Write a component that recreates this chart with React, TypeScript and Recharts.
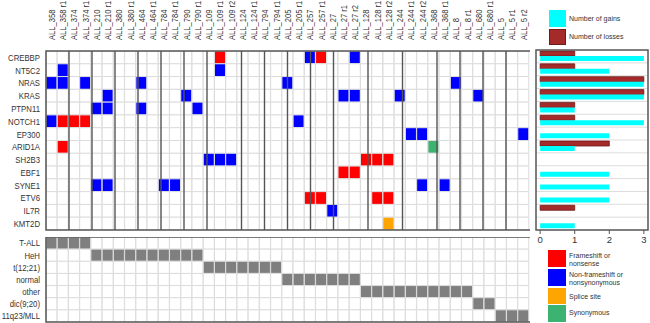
import React from 'react';
import { BarChart, Bar, XAxis, YAxis, Cell, ReferenceLine, ReferenceArea, CartesianGrid } from 'recharts';

const FONT = '"Liberation Sans", Arial, Helvetica, sans-serif';
const TEXT = '#333333';

// ---------- data ----------
const samples = [
  'ALL_358', 'ALL_358 r1', 'ALL_374', 'ALL_374 r1', 'ALL_210', 'ALL_210 r1', 'ALL_380', 'ALL_380 r1',
  'ALL_464', 'ALL_464 r1', 'ALL_784', 'ALL_784 r1', 'ALL_790', 'ALL_790 r1', 'ALL_109', 'ALL_109 r1',
  'ALL_109 r2', 'ALL_124', 'ALL_124 r1', 'ALL_794', 'ALL_794 r1', 'ALL_205', 'ALL_205 r1', 'ALL_257',
  'ALL_257 r1', 'ALL_27', 'ALL_27 r1', 'ALL_27 r2', 'ALL_128', 'ALL_128 r1', 'ALL_128 r2', 'ALL_244',
  'ALL_244 r1', 'ALL_244 r2', 'ALL_368', 'ALL_368 r1', 'ALL_8', 'ALL_8 r1', 'ALL_680', 'ALL_680 r1',
  'ALL_5', 'ALL_5 r1', 'ALL_5 r2',
];

const genes = ['CREBBP', 'NT5C2', 'NRAS', 'KRAS', 'PTPN11', 'NOTCH1', 'EP300', 'ARID1A', 'SH2B3', 'EBF1', 'SYNE1', 'ETV6', 'IL7R', 'KMT2D'];

const frameshiftOrNonsense: [string, string][] = [
  ['CREBBP', 'ALL_109 r1'], ['CREBBP', 'ALL_257 r1'],
  ['NOTCH1', 'ALL_358 r1'], ['NOTCH1', 'ALL_374'], ['NOTCH1', 'ALL_374 r1'],
  ['ARID1A', 'ALL_358 r1'],
  ['SH2B3', 'ALL_128'], ['SH2B3', 'ALL_128 r1'], ['SH2B3', 'ALL_128 r2'],
  ['EBF1', 'ALL_27 r1'], ['EBF1', 'ALL_27 r2'],
  ['ETV6', 'ALL_257'], ['ETV6', 'ALL_257 r1'], ['ETV6', 'ALL_128 r1'], ['ETV6', 'ALL_128 r2'],
];

const nonFrameshiftOrNonsynonymous: [string, string][] = [
  ['CREBBP', 'ALL_257'], ['CREBBP', 'ALL_27 r2'],
  ['NT5C2', 'ALL_358 r1'], ['NT5C2', 'ALL_109 r1'],
  ['NRAS', 'ALL_358'], ['NRAS', 'ALL_358 r1'], ['NRAS', 'ALL_374 r1'], ['NRAS', 'ALL_464'], ['NRAS', 'ALL_205'], ['NRAS', 'ALL_8'],
  ['KRAS', 'ALL_210 r1'], ['KRAS', 'ALL_790'], ['KRAS', 'ALL_27 r1'], ['KRAS', 'ALL_27 r2'], ['KRAS', 'ALL_244'], ['KRAS', 'ALL_680'],
  ['PTPN11', 'ALL_210'], ['PTPN11', 'ALL_210 r1'], ['PTPN11', 'ALL_464'], ['PTPN11', 'ALL_790 r1'],
  ['NOTCH1', 'ALL_358'], ['NOTCH1', 'ALL_205 r1'],
  ['EP300', 'ALL_244 r1'], ['EP300', 'ALL_244 r2'], ['EP300', 'ALL_5 r2'],
  ['SH2B3', 'ALL_109'], ['SH2B3', 'ALL_109 r1'], ['SH2B3', 'ALL_109 r2'],
  ['SYNE1', 'ALL_210'], ['SYNE1', 'ALL_210 r1'], ['SYNE1', 'ALL_784'], ['SYNE1', 'ALL_784 r1'], ['SYNE1', 'ALL_244 r2'], ['SYNE1', 'ALL_368 r1'],
  ['IL7R', 'ALL_27'],
];

const spliceSite: [string, string][] = [['KMT2D', 'ALL_128 r2']];
const synonymous: [string, string][] = [['ARID1A', 'ALL_368']];

const gains = [3, 2, 3, 3, 1, 3, 2, 1, 0, 2, 2, 2, 0, 1];
const losses = [1, 1, 3, 3, 1, 1, 0, 2, 0, 0, 0, 0, 1, 0];

const subtypes = ['T-ALL', 'HeH', 't(12;21)', 'normal', 'other', 'dic(9;20)', '11q23/MLL'];
const subtypeCounts = [4, 10, 7, 7, 10, 2, 3];

// ---------- colours ----------
const C_FS = '#FF0000';
const C_NFS = '#0000FF';
const C_SPLICE = '#FFA500';
const C_SYN = '#3CB371';
const C_GAIN = '#00FFFF';
const C_LOSS = '#A52A2A';
const C_GRAY = '#7F7F7F';
const C_GRID = '#DCDCDC';
const C_DARK = '#555555';

// ---------- derived tables ----------
const typeLists: [[string, string][], string][] = [
  [frameshiftOrNonsense, C_FS],
  [nonFrameshiftOrNonsynonymous, C_NFS],
  [spliceSite, C_SPLICE],
  [synonymous, C_SYN],
];

function cellColor(gene: string, sample: string): string {
  for (const [list, col] of typeLists) {
    if (list.some(([g, s]) => g === gene && s === sample)) return col;
  }
  return '#FFFFFF';
}

const mainData = samples.map((s) => {
  const o: any = { sample: s };
  genes.forEach((_, r) => { o['g' + r] = 1; });
  return o;
});

const sampleSubtype: number[] = [];
subtypeCounts.forEach((n, i) => { for (let k = 0; k < n; k++) sampleSubtype.push(i); });

const subData = samples.map((s) => {
  const o: any = { sample: s };
  subtypes.forEach((_, r) => { o['t' + r] = 1; });
  return o;
});

const patientOf = (s: string) => s.split(' ')[0];
const boundaries: number[] = [];
samples.forEach((s, i) => { if (i > 0 && patientOf(s) !== patientOf(samples[i - 1])) boundaries.push(i); });

const barData = genes.map((g, i) => ({ gene: g, gains: gains[i], losses: losses[i] }));

// ---------- ticks ----------
const ColTick = (p: any) => (
  <g transform={`translate(${p.x},${p.y})`}>
    <g transform="rotate(-90) scale(0.8,1)">
      <text x={0} y={0} dy={3.3} textAnchor="start" fontSize={9.5} fontFamily={FONT} fill={TEXT}>
        {p.payload.value}
      </text>
    </g>
  </g>
);

const makeRowTick = (labels: string[]) => (p: any) => (
  <g transform={`translate(${p.x},${p.y}) scale(0.82,1)`}>
    <text x={0} y={0} dy={3.4} textAnchor="end" fontSize={9.5} fontFamily={FONT} fill={TEXT}>
      {labels[Math.floor(p.payload.value)]}
    </text>
  </g>
);

const GeneTick = makeRowTick(genes);
const SubTick = makeRowTick(subtypes);

const LegText = ({ x, y, children }: any) => (
  <text x={x} y={y} fontSize={7} fontFamily={FONT} fill={TEXT}>{children}</text>
);

export default function App() {
  return (
    <div style={{ position: 'absolute', left: 0, top: 0, width: 650, height: 323, background: '#fff', overflow: 'hidden' }}>
      {/* main mutation grid */}
      <div style={{ position: 'absolute', left: 0, top: 0 }}>
        <BarChart width={530} height={231} data={mainData} margin={{ top: 0, right: 1, bottom: 1, left: 0 }} barCategoryGap={0} barGap={0}>
          <XAxis xAxisId="cat" dataKey="sample" type="category" orientation="top" height={51} interval={0}
            tickLine={false} axisLine={false} tickSize={0} tickMargin={11} tick={ColTick} />
          <XAxis xAxisId="num" type="number" domain={[0, samples.length]} hide allowDataOverflow />
          <YAxis type="number" domain={[0, genes.length]} reversed allowDataOverflow width={46}
            ticks={genes.map((_, i) => i + 0.5)} interval={0} tickLine={false} axisLine={false}
            tickSize={0} tickMargin={6} tick={GeneTick} />
          {genes.map((g, r) => (
            <Bar key={g} xAxisId="cat" dataKey={'g' + r} stackId="m" isAnimationActive={false} stroke={C_GRID} strokeWidth={1}>
              {samples.map((s) => <Cell key={s} fill={cellColor(g, s)} />)}
            </Bar>
          ))}
          {boundaries.map((b) => (
            <ReferenceLine key={b} xAxisId="num" x={b} stroke={C_DARK} strokeWidth={1.4} zIndex={1500} />
          ))}
          <ReferenceArea xAxisId="num" x1={0} x2={samples.length} y1={0} y2={genes.length}
            fill="none" fillOpacity={0} stroke={C_DARK} strokeWidth={1.5} ifOverflow="visible" zIndex={1600} />
        </BarChart>
      </div>

      {/* subtype grid */}
      <div style={{ position: 'absolute', left: 0, top: 237 }}>
        <BarChart width={530} height={86} data={subData} margin={{ top: 0, right: 1, bottom: 1, left: 0 }} barCategoryGap={0} barGap={0}>
          <XAxis xAxisId="cat" dataKey="sample" type="category" hide />
          <XAxis xAxisId="num" type="number" domain={[0, samples.length]} hide allowDataOverflow />
          <YAxis type="number" domain={[0, subtypes.length]} reversed allowDataOverflow width={46}
            ticks={subtypes.map((_, i) => i + 0.5)} interval={0} tickLine={false} axisLine={false}
            tickSize={0} tickMargin={6} tick={SubTick} />
          {subtypes.map((t, r) => (
            <Bar key={t} xAxisId="cat" dataKey={'t' + r} stackId="s" isAnimationActive={false} stroke={C_GRID} strokeWidth={1}>
              {samples.map((s, c) => <Cell key={s} fill={sampleSubtype[c] === r ? C_GRAY : '#FFFFFF'} />)}
            </Bar>
          ))}
          <ReferenceArea xAxisId="num" x1={0} x2={samples.length} y1={0} y2={subtypes.length}
            fill="none" fillOpacity={0} stroke={C_DARK} strokeWidth={1.5} ifOverflow="visible" zIndex={1600} />
        </BarChart>
      </div>

      {/* gains / losses bar panel */}
      <div style={{ position: 'absolute', left: 536, top: 50 }}>
        <BarChart layout="vertical" width={112} height={202} data={barData} margin={{ top: 0, right: 0, bottom: 0, left: 0 }}
          barCategoryGap={1} barGap={0}>
          <CartesianGrid vertical={false} stroke={C_GRID}
            horizontalCoordinatesGenerator={({ offset }: any) =>
              genes.slice(1).map((_, i) => offset.top + ((i + 1) * offset.height) / genes.length)} />
          <XAxis type="number" domain={[-0.12, 3.12]} allowDataOverflow ticks={[0, 1, 2, 3]} height={22}
            axisLine={false} tickSize={4} tickLine={{ stroke: C_DARK }} tickMargin={2}
            tick={{ fontSize: 9.5, fill: TEXT, fontFamily: FONT }} />
          <YAxis type="category" dataKey="gene" hide />
          <Bar dataKey="losses" fill={C_LOSS} stroke="#6E1B1B" strokeWidth={0.8} isAnimationActive={false} />
          <Bar dataKey="gains" fill={C_GAIN} isAnimationActive={false} />
        </BarChart>
      </div>

      {/* frame + legends */}
      <svg width={650} height={323} style={{ position: 'absolute', left: 0, top: 0, pointerEvents: 'none' }}>
        <rect x={536} y={50} width={112} height={180} fill="none" stroke={C_DARK} strokeWidth={1.5} />
        <rect x={549} y={10} width={17} height={17} fill={C_GAIN} />
        <LegText x={569} y={20.5}>Number of gains</LegText>
        <rect x={549.5} y={29.5} width={16} height={15} fill={C_LOSS} stroke="#6E1B1B" strokeWidth={1} />
        <LegText x={569} y={39}>Number of losses</LegText>

        <rect x={548} y={250} width={18} height={17} fill={C_FS} />
        <LegText x={569} y={258}>Frameshift or</LegText>
        <LegText x={569} y={266}>nonsense</LegText>
        <rect x={548} y={269} width={18} height={17} fill={C_NFS} />
        <LegText x={569} y={276.5}>Non-frameshift or</LegText>
        <LegText x={569} y={284.5}>nonsynonymous</LegText>
        <rect x={548} y={288} width={18} height={16} fill={C_SPLICE} />
        <LegText x={569} y={298.5}>Splice site</LegText>
        <rect x={548} y={305} width={18} height={17} fill={C_SYN} />
        <LegText x={569} y={315}>Synonymous</LegText>
      </svg>
    </div>
  );
}
